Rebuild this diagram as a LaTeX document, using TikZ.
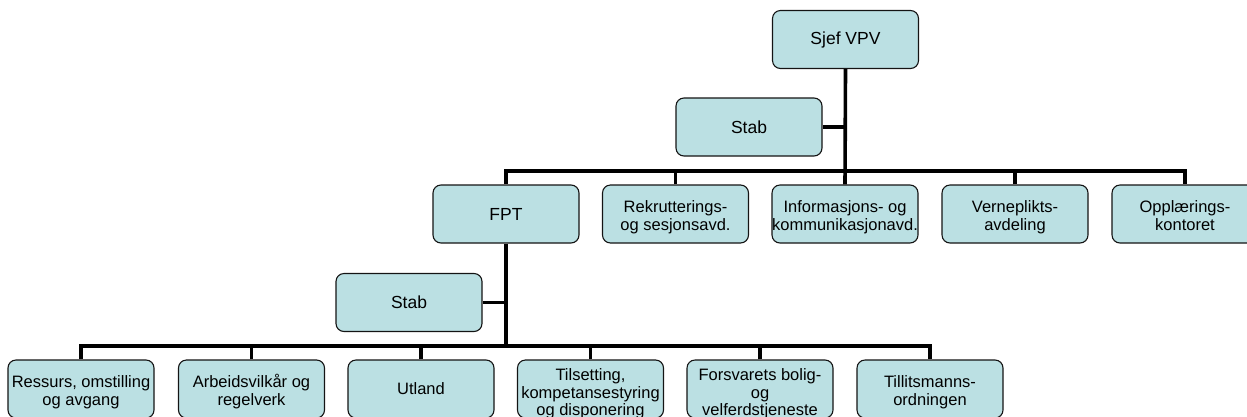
\documentclass[tikz,border=0pt]{standalone}
\usepackage{fontspec}
\setmainfont{Liberation Sans}
\usepackage{tikz}

\newcommand{\unitlines}[1]{\begin{tabular}{@{}c@{}}#1\end{tabular}}

\begin{document}
\begin{tikzpicture}[x=1pt,y=1pt,yscale=-1,xscale=1,
  unit/.style={draw={rgb,255:red,20;green,20;blue,20},fill={rgb,255:red,187;green,224;blue,227},
    rounded corners=8pt,line width=1.1pt,minimum width=146pt,minimum height=58pt,
    inner sep=0pt,align=center,font=\fontsize{16.5}{18}\selectfont},
  bigunit/.style={unit,font=\fontsize{17.5}{19}\selectfont},
  multiunit/.style={unit,text height=16pt,text depth=0pt},
  tallunit/.style={unit,font=\fontsize{16.5}{17.5}\selectfont,text height=20pt,text depth=0pt},
  conn/.style={line width=3.6pt}]
%set diagram frame 1247 x 416
\useasboundingbox (0,0) rectangle (1247,416);
\clip (0,0) rectangle (1247,416);

%Bar levels
\coordinate (bar1) at (0,171);
\coordinate (bar2) at (0,346);

%Top level
\node [bigunit] (sjef) at (845.5,39.5) {Sjef VPV};
\node [bigunit] (stab1) at (749,127) {Stab};

%Second level
\node [bigunit] (fpt) at (506,214) {FPT};
\node [multiunit] (rek) at (675.5,214) {\unitlines{Rekrutterings-\\og sesjonsavd.}};
\node [multiunit] (info) at (845,214) {\unitlines{Informasjons- og\\kommunikasjonavd.}};
\node [multiunit] (vpl) at (1015,214) {\unitlines{Verneplikts-\\avdeling}};
\node [multiunit] (opl) at (1185,214) {\unitlines{Opplærings-\\kontoret}};

%Third level
\node [bigunit] (stab2) at (409,302.5) {Stab};
\node [multiunit] (res) at (81,389) {\unitlines{Ressurs, omstilling\\og avgang}};
\node [multiunit] (arb) at (251.5,389) {\unitlines{Arbeidsvilkår og\\regelverk}};
\node [unit] (utl) at (421,389) {Utland};
\node [tallunit] (til) at (590.5,389) {\unitlines{Tilsetting,\\kompetansestyring\\og disponering}};
\node [tallunit] (fbv) at (760,389) {\unitlines{Forsvarets bolig-\\og\\velferdstjeneste}};
\node [multiunit] (tmo) at (930,389) {\unitlines{Tillitsmanns-\\ordningen}};

%Connectors top level
\draw [conn] (sjef.south) -- (info.north);
\draw [conn] (stab1.east) -- (stab1.east -| sjef.south);
\draw [conn] (fpt.north) -- (fpt.north |- bar1) -| (opl.north);
\foreach \u in {rek,vpl}
  \draw [conn] (\u.north) -- (\u.north |- bar1);

%Connectors FPT
\draw [conn] (fpt.south) -- (fpt.south |- bar2);
\draw [conn] (stab2.east) -- (stab2.east -| fpt.south);
\draw [conn] (res.north) -- (res.north |- bar2) -| (tmo.north);
\foreach \u in {arb,utl,til,fbv}
  \draw [conn] (\u.north) -- (\u.north |- bar2);

\end{tikzpicture}
\end{document}
